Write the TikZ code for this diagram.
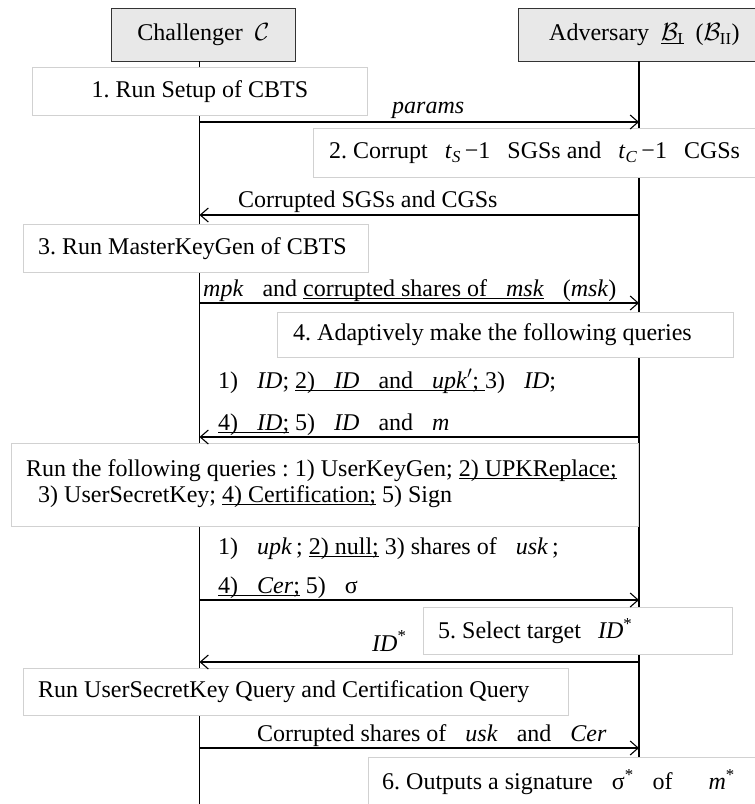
\documentclass[tikz,border=0pt]{standalone}
\usepackage{fontspec}
\setmainfont{Liberation Serif}
\usetikzlibrary{arrows.meta}
% underline at a fixed depth below the baseline
\newsavebox\ulbox
\newcommand\ulx[1]{\sbox\ulbox{#1}\rlap{\rule[-3pt]{\wd\ulbox}{0.9pt}}\usebox\ulbox}
% space between a formula and the surrounding words
\newcommand\gp{\hspace{19pt}}
\newcommand\gq{\hspace{17pt}}
\begin{document}
\begin{tikzpicture}[x=1pt,y=-1pt,
  every node/.style={font=\fontsize{24}{26}\selectfont\frenchspacing, inner sep=0pt},
  hdr/.style={draw=black!80, fill=black!9, line width=0.8pt, anchor=north west},
  wbox/.style={draw=black!18, fill=white, line width=0.8pt, anchor=north west},
  txt/.style={anchor=west},
  life/.style={line width=1.1pt},
  msg/.style={line width=1.3pt, -{Straight Barb[length=8pt,width=14pt,line width=1.1pt]}},
  lbl/.style={anchor=base west},
]
\useasboundingbox (0,0) rectangle (755,804);

% participants
\node[hdr, minimum width=184pt, minimum height=53pt] (ch) at (111,8) {Challenger\ \ $\mathcal{C}$};
\node[hdr, minimum width=252pt, minimum height=53pt] (adv) at (518,8)
  {Adversary\ \ \ulx{$\mathcal{B}_{\mathrm{I}}$}\ \ ($\mathcal{B}_{\mathrm{II}}$)};

% lifelines
\coordinate (cTop) at (199.5,61);  \coordinate (cBot) at (199.5,804);
\coordinate (aTop) at (639,61);    \coordinate (aBot) at (639,804);
\draw[life] (cTop) -- (cBot);
\draw[life] (aTop) -- (aBot);

% step boxes
\node[wbox, minimum width=335pt, minimum height=48pt] (s1) at (32,67) {1. Run Setup of CBTS};
\node[wbox, minimum width=457pt, minimum height=49pt] (s2) at (313,128) {};
\node[txt] (s2t) at ([xshift=16pt]s2.west)
  {2. Corrupt\gq\textit{t}\textsubscript{\textit{S}}\,−1\gq SGSs and\gq\textit{t}\textsubscript{\textit{C}}\,−1\gq CGSs};
\node[wbox, minimum width=345pt, minimum height=48pt] (s3) at (23,224) {};
\node[txt] (s3t) at ([xshift=15pt]s3.west) {3. Run MasterKeyGen of CBTS};
\node[wbox, minimum width=456pt, minimum height=45pt] (s4) at (277,312) {};
\node[txt] (s4t) at ([xshift=16pt]s4.west) {4. Adaptively make the following queries};
\node[wbox, minimum width=627pt, minimum height=83pt] (q) at (11,443) {};
\node[lbl] (q1) at (26,476) {Run the following queries : 1) UserKeyGen; \ulx{2) UPKReplace;}};
\node[lbl] (q2) at (38,502) {3) UserSecretKey; \ulx{4) Certification;} 5) Sign};
\node[wbox, minimum width=309pt, minimum height=47pt] (s5) at (423,607) {};
\node[txt] (s5t) at ([xshift=15pt]s5.west) {5. Select target\gq\textit{ID}\textsuperscript{*}};
\node[wbox, minimum width=545pt, minimum height=47pt] (r) at (23,668) {};
\node[txt] (rt) at ([xshift=15pt]r.west) {Run UserSecretKey Query and Certification Query};
\node[wbox, minimum width=402pt, minimum height=50pt] (s6) at (368,757) {};
\node[txt] (s6t) at ([xshift=14pt]s6.west)
  {6. Outputs a signature\gp σ\textsuperscript{*}\gp of\gp\gq\textit{m}\textsuperscript{*}};

% message end points on the lifelines
\foreach \n/\y in {1/122, 2/215, 3/303, 4/437, 5/600, 6/662, 7/748} {
  \coordinate (c\n) at (199.5,\y);
  \coordinate (a\n) at (639,\y);
}

% messages
\draw[msg] (c1) -- (a1);
\node[lbl] (m1) at (392,113) {\textit{params}};

\draw[msg] (a2) -- (c2);
\node[lbl] (m2) at (238,207) {Corrupted SGSs and CGSs};

\draw[msg] (c3) -- (a3);
\node[lbl] (m3) at (203,296) {\textit{mpk}\gp and \ulx{corrupted shares of\gp\textit{msk}}\gp(\textit{msk})};

\draw[msg] (a4) -- (c4);
\node[lbl] (m4a) at (218,388) {1)\gp\textit{ID}; \ulx{2)\gp\textit{ID}\gp and\gp\textit{upk}$'$; }3)\gp\textit{ID};};
\node[lbl] (m4b) at (218,430) {\ulx{4)\gp\textit{ID};} 5)\gp\textit{ID}\gp and\gp\textit{m}};

\draw[msg] (c5) -- (a5);
\node[lbl] (m5a) at (218,554) {1)\gp\textit{upk}\,; \ulx{2) null;} 3) shares of\gp\textit{usk}\,;};
\node[lbl] (m5b) at (218,593) {\ulx{4)\gp\textit{Cer};} 5)\gp σ};

\draw[msg] (a6) -- (c6);
\node[lbl] (m6) at (372,651) {\textit{ID}\textsuperscript{*}};

\draw[msg] (c7) -- (a7);
\node[lbl] (m7) at (257,741) {Corrupted shares of\gp\textit{usk}\gp and\gp\textit{Cer}};
\end{tikzpicture}
\end{document}
